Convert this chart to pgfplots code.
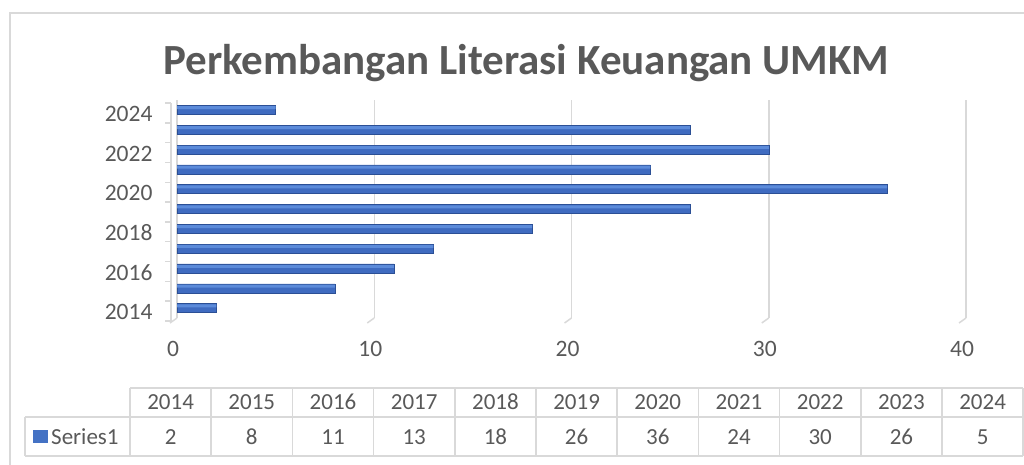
\documentclass[border=0pt]{standalone}
\usepackage{pgfplots}
\usepackage{pgfplotstable}
\pgfplotsset{compat=1.18}
\usepackage{fontspec}
\setmainfont{Carlito}
\definecolor{txt}{HTML}{595959}
\definecolor{grd}{HTML}{D9D9D9}
\definecolor{barc}{HTML}{4472C4}
\definecolor{barmain}{HTML}{3F6BC0}
\definecolor{barhi}{HTML}{5C8BDA}
\definecolor{baredge}{HTML}{2B4F95}

\pgfplotstableread{
year value
2014 2
2015 8
2016 11
2017 13
2018 18
2019 26
2020 36
2021 24
2022 30
2023 26
2024 5
}\datatable

\begin{document}
\begin{tikzpicture}[x=1pt,y=1pt]
\useasboundingbox (0,0) rectangle (1024,464);
% outer chart border
\draw[grd, line width=1.5pt] (10,-5) -- (10,451) -- (1030,451);
% title
\node[txt, anchor=base west, inner sep=0, font=\fontsize{43}{48}\selectfont\bfseries] at (163,389) {Perkembangan Literasi Keuangan UMKM};

\begin{axis}[
  at={(177pt,146pt)}, anchor=south west,
  scale only axis, width=789pt, height=218pt,
  xmin=0, xmax=40, ymin=2013.5, ymax=2024.5,
  xbar, bar width=9pt, bar shift=0pt,
  xtick={0,10,20,30,40},
  ytick={2014,2016,2018,2020,2022,2024},
  xmajorgrids, grid style={grd, line width=1.5pt},
  axis line style={draw=none},
  major tick length=0pt,
  tick label style={txt, font=\fontsize{23.5}{28}\selectfont},
  /pgf/number format/assume math mode=true,
  /pgf/number format/1000 sep={},
  xticklabel style={yshift=-20pt, xshift=-4pt},
  yticklabel style={xshift=-21pt, yshift=-4pt},
  clip=false,
]
\addplot[xbar, draw=baredge, line width=0.5pt, fill=barmain] table[x=value, y=year] {\datatable};
\addplot[xbar, draw=none, fill=barhi, bar width=3pt, bar shift=2.2pt, forget plot] table[x=value, y=year] {\datatable};
% floor diagonals of gridlines
\pgfplotsinvokeforeach{0,10,20,30,40}{
  \draw[grd, line width=1.5pt] (axis cs:#1,2013.5) -- ++(-7pt,-5pt);
}
% front y axis line with category ticks
\draw[grd, line width=1.5pt] (axis cs:0,2013.5) ++(-6pt,-3pt) -- ++(0pt,218pt);
\pgfplotsinvokeforeach{2013.5,2014.5,2015.5,2016.5,2017.5,2018.5,2019.5,2020.5,2021.5,2022.5,2023.5,2024.5}{
  \draw[grd, line width=1.5pt] (axis cs:0,#1) ++(-6pt,-3pt) -- ++(-6pt,0pt);
}
\end{axis}

% data table
\begin{scope}[grd, line width=1.5pt]
  \draw (130,76) -- (1023.2,76);
  \draw (25,47) -- (1023.2,47);
  \draw (25,8) -- (1023.2,8);
  \draw (25,47) -- (25,8);
  \foreach \i in {0,...,11} {
    \draw ({130+81.2*\i},76) -- ({130+81.2*\i},8);
  }
\end{scope}
\fill[barc] (33,21) rectangle (47.5,34);
\node[txt, anchor=west, inner sep=0, font=\fontsize{23}{27}\selectfont] at (51,27.5) {Series1};
\foreach \i in {0,...,10} {
  \pgfplotstablegetelem{\i}{year}\of\datatable
  \node[txt, font=\fontsize{23}{27}\selectfont] at ({170.6+81.2*\i},62) {\pgfplotsretval};
  \pgfplotstablegetelem{\i}{value}\of\datatable
  \node[txt, font=\fontsize{23}{27}\selectfont] at ({170.6+81.2*\i},27) {\pgfplotsretval};
}
\end{tikzpicture}
\end{document}
